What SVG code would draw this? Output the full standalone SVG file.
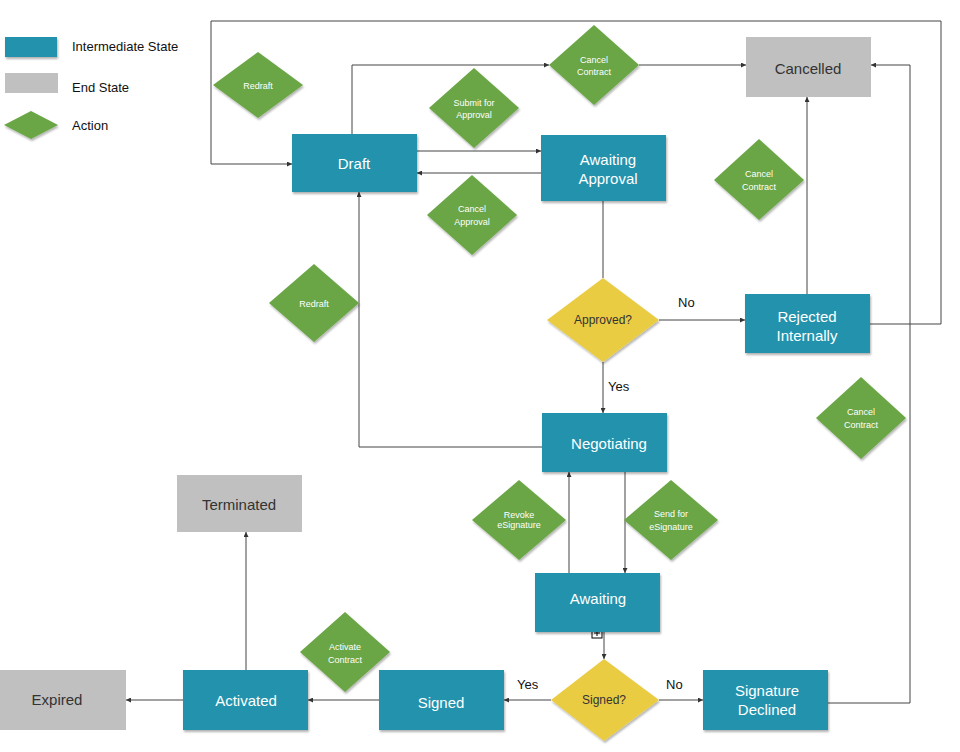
<svg xmlns="http://www.w3.org/2000/svg" width="960" height="752" viewBox="0 0 960 752">
<defs>
<filter id="sh" x="-10%" y="-10%" width="125%" height="130%"><feDropShadow dx="1" dy="2" stdDeviation="1.2" flood-color="#000" flood-opacity="0.3"/></filter>
<marker id="a" viewBox="0 0 6 6" refX="6" refY="3" markerWidth="5" markerHeight="5" orient="auto"><path d="M0,0 L6,3 L0,6 z" fill="#333"/></marker>
</defs>
<style>
.st{fill:#2292ad;filter:url(#sh)}
.en{fill:#c0c0c0}
.ac{fill:#6aa645;filter:url(#sh)}
.dc{fill:#e9cc42;filter:url(#sh)}
text{font-family:"Liberation Sans",Arial,sans-serif}
.t{fill:#fff;font-size:15px;text-anchor:middle}
.te{fill:#333;font-size:15px;text-anchor:middle}
.ta{fill:#fff;font-size:9px;text-anchor:middle}
.td{fill:#333;font-size:12px;text-anchor:middle}
.lb{fill:#111;font-size:13px}
.c path{fill:none;stroke:#444;stroke-width:1;marker-end:url(#a)}
.c path.n{marker-end:none}
</style>
<rect width="960" height="752" fill="#fff"/>
<g id="legend">
<rect class="st" x="5" y="37" width="52" height="20"/>
<rect class="en" x="5" y="73" width="53" height="20"/>
<polygon class="ac" points="4,125 31,111 58,125 31,139"/>
<text class="lb" x="72" y="51">Intermediate State</text>
<text class="lb" x="72" y="92">End State</text>
<text class="lb" x="72" y="130">Action</text>
</g>
<g class="c" id="connectors">
<path d="M870,324 H941 V21 H211 V164 H292"/>
<path d="M352,134 V65 H549"/>
<path d="M639,65 H746"/>
<path d="M417,151 H541"/>
<path d="M541,173 H417"/>
<path class="n" d="M603,201 V278"/>
<path d="M659,320 H745"/>
<path d="M603,362 V413"/>
<path d="M807,294 V97"/>
<path d="M828,703 H910 V65 H871"/>
<path d="M542,447 H359 V192"/>
<path d="M625,472 V573"/>
<path d="M569,573 V472"/>
<path d="M604,632 V659"/>
<path d="M551,700 H504"/>
<path d="M659,700 H703"/>
<path d="M379,700 H308"/>
<path d="M183,700 H126"/>
<path d="M246,670 V532"/>
</g>
<g id="plus"><rect x="592" y="628" width="10" height="10" fill="#fff" stroke="#000"/><path d="M594,633 H600 M597,630 V636" stroke="#000"/></g>
<g id="draft"><rect class="st" x="292" y="134" width="125" height="58"/><text class="t" x="354" y="169">Draft</text></g>
<g id="awaitingApproval"><rect class="st" x="541" y="135" width="125" height="66"/><text class="t" x="608" y="165">Awaiting</text><text class="t" x="608" y="184">Approval</text></g>
<g id="cancelled"><rect class="en" x="746" y="37" width="125" height="60"/><text class="te" x="808" y="74">Cancelled</text></g>
<g id="rejected"><rect class="st" x="745" y="294" width="125" height="59"/><text class="t" x="807" y="322">Rejected</text><text class="t" x="807" y="341">Internally</text></g>
<g id="negotiating"><rect class="st" x="542" y="413" width="125" height="59"/><text class="t" x="609" y="449">Negotiating</text></g>
<g id="awaiting"><rect class="st" x="535" y="573" width="125" height="59"/><text class="t" x="598" y="604">Awaiting</text></g>
<g id="signed"><rect class="st" x="379" y="670" width="125" height="60"/><text class="t" x="441" y="708">Signed</text></g>
<g id="declined"><rect class="st" x="703" y="670" width="125" height="60"/><text class="t" x="767" y="696">Signature</text><text class="t" x="767" y="715">Declined</text></g>
<g id="activated"><rect class="st" x="183" y="670" width="125" height="60"/><text class="t" x="246" y="706">Activated</text></g>
<g id="expired"><rect class="en" x="0" y="670" width="126" height="60"/><text class="te" x="57" y="705">Expired</text></g>
<g id="terminated"><rect class="en" x="177" y="475" width="125" height="57"/><text class="te" x="239" y="510">Terminated</text></g>
<g id="redraft1"><polygon class="ac" points="213,85 258,52 303,85 258,118"/><text class="ta" x="258" y="89">Redraft</text></g>
<g id="cancelContract1"><polygon class="ac" points="549,65 594,25 639,65 594,105"/><text class="ta" x="594" y="63">Cancel</text><text class="ta" x="594" y="75">Contract</text></g>
<g id="submitApproval"><polygon class="ac" points="429,108 474,68 519,108 474,148"/><text class="ta" x="474" y="106">Submit for</text><text class="ta" x="474" y="118">Approval</text></g>
<g id="cancelApproval"><polygon class="ac" points="427,215 472,175 517,215 472,255"/><text class="ta" x="472" y="212">Cancel</text><text class="ta" x="472" y="225">Approval</text></g>
<g id="cancelContract2"><polygon class="ac" points="714,180 759,139 804,180 759,220"/><text class="ta" x="759" y="177">Cancel</text><text class="ta" x="759" y="190">Contract</text></g>
<g id="redraft2"><polygon class="ac" points="269,303 314,264 359,303 314,342"/><text class="ta" x="314" y="307">Redraft</text></g>
<g id="approved"><polygon class="dc" points="547,320 603,278 659,320 603,362"/><text class="td" x="603" y="324">Approved?</text></g>
<g id="cancelContract3"><polygon class="ac" points="816,418 861,377 906,418 861,459"/><text class="ta" x="861" y="415">Cancel</text><text class="ta" x="861" y="428">Contract</text></g>
<g id="revoke"><polygon class="ac" points="472,520 519,480 566,520 519,560"/><text class="ta" x="519" y="518">Revoke</text><text class="ta" x="519" y="528">eSignature</text></g>
<g id="send"><polygon class="ac" points="624,520 671,480 718,520 671,560"/><text class="ta" x="671" y="517">Send for</text><text class="ta" x="671" y="530">eSignature</text></g>
<g id="activate"><polygon class="ac" points="300,652 345,612 390,652 345,692"/><text class="ta" x="345" y="650">Activate</text><text class="ta" x="345" y="663">Contract</text></g>
<g id="signedQ"><polygon class="dc" points="551,700 604,659 659,700 604,741"/><text class="td" x="604" y="704">Signed?</text></g>
<g id="labels">
<text class="lb" x="678" y="307">No</text>
<text class="lb" x="608" y="391">Yes</text>
<text class="lb" x="517" y="689">Yes</text>
<text class="lb" x="666" y="689">No</text>
</g>
</svg>
